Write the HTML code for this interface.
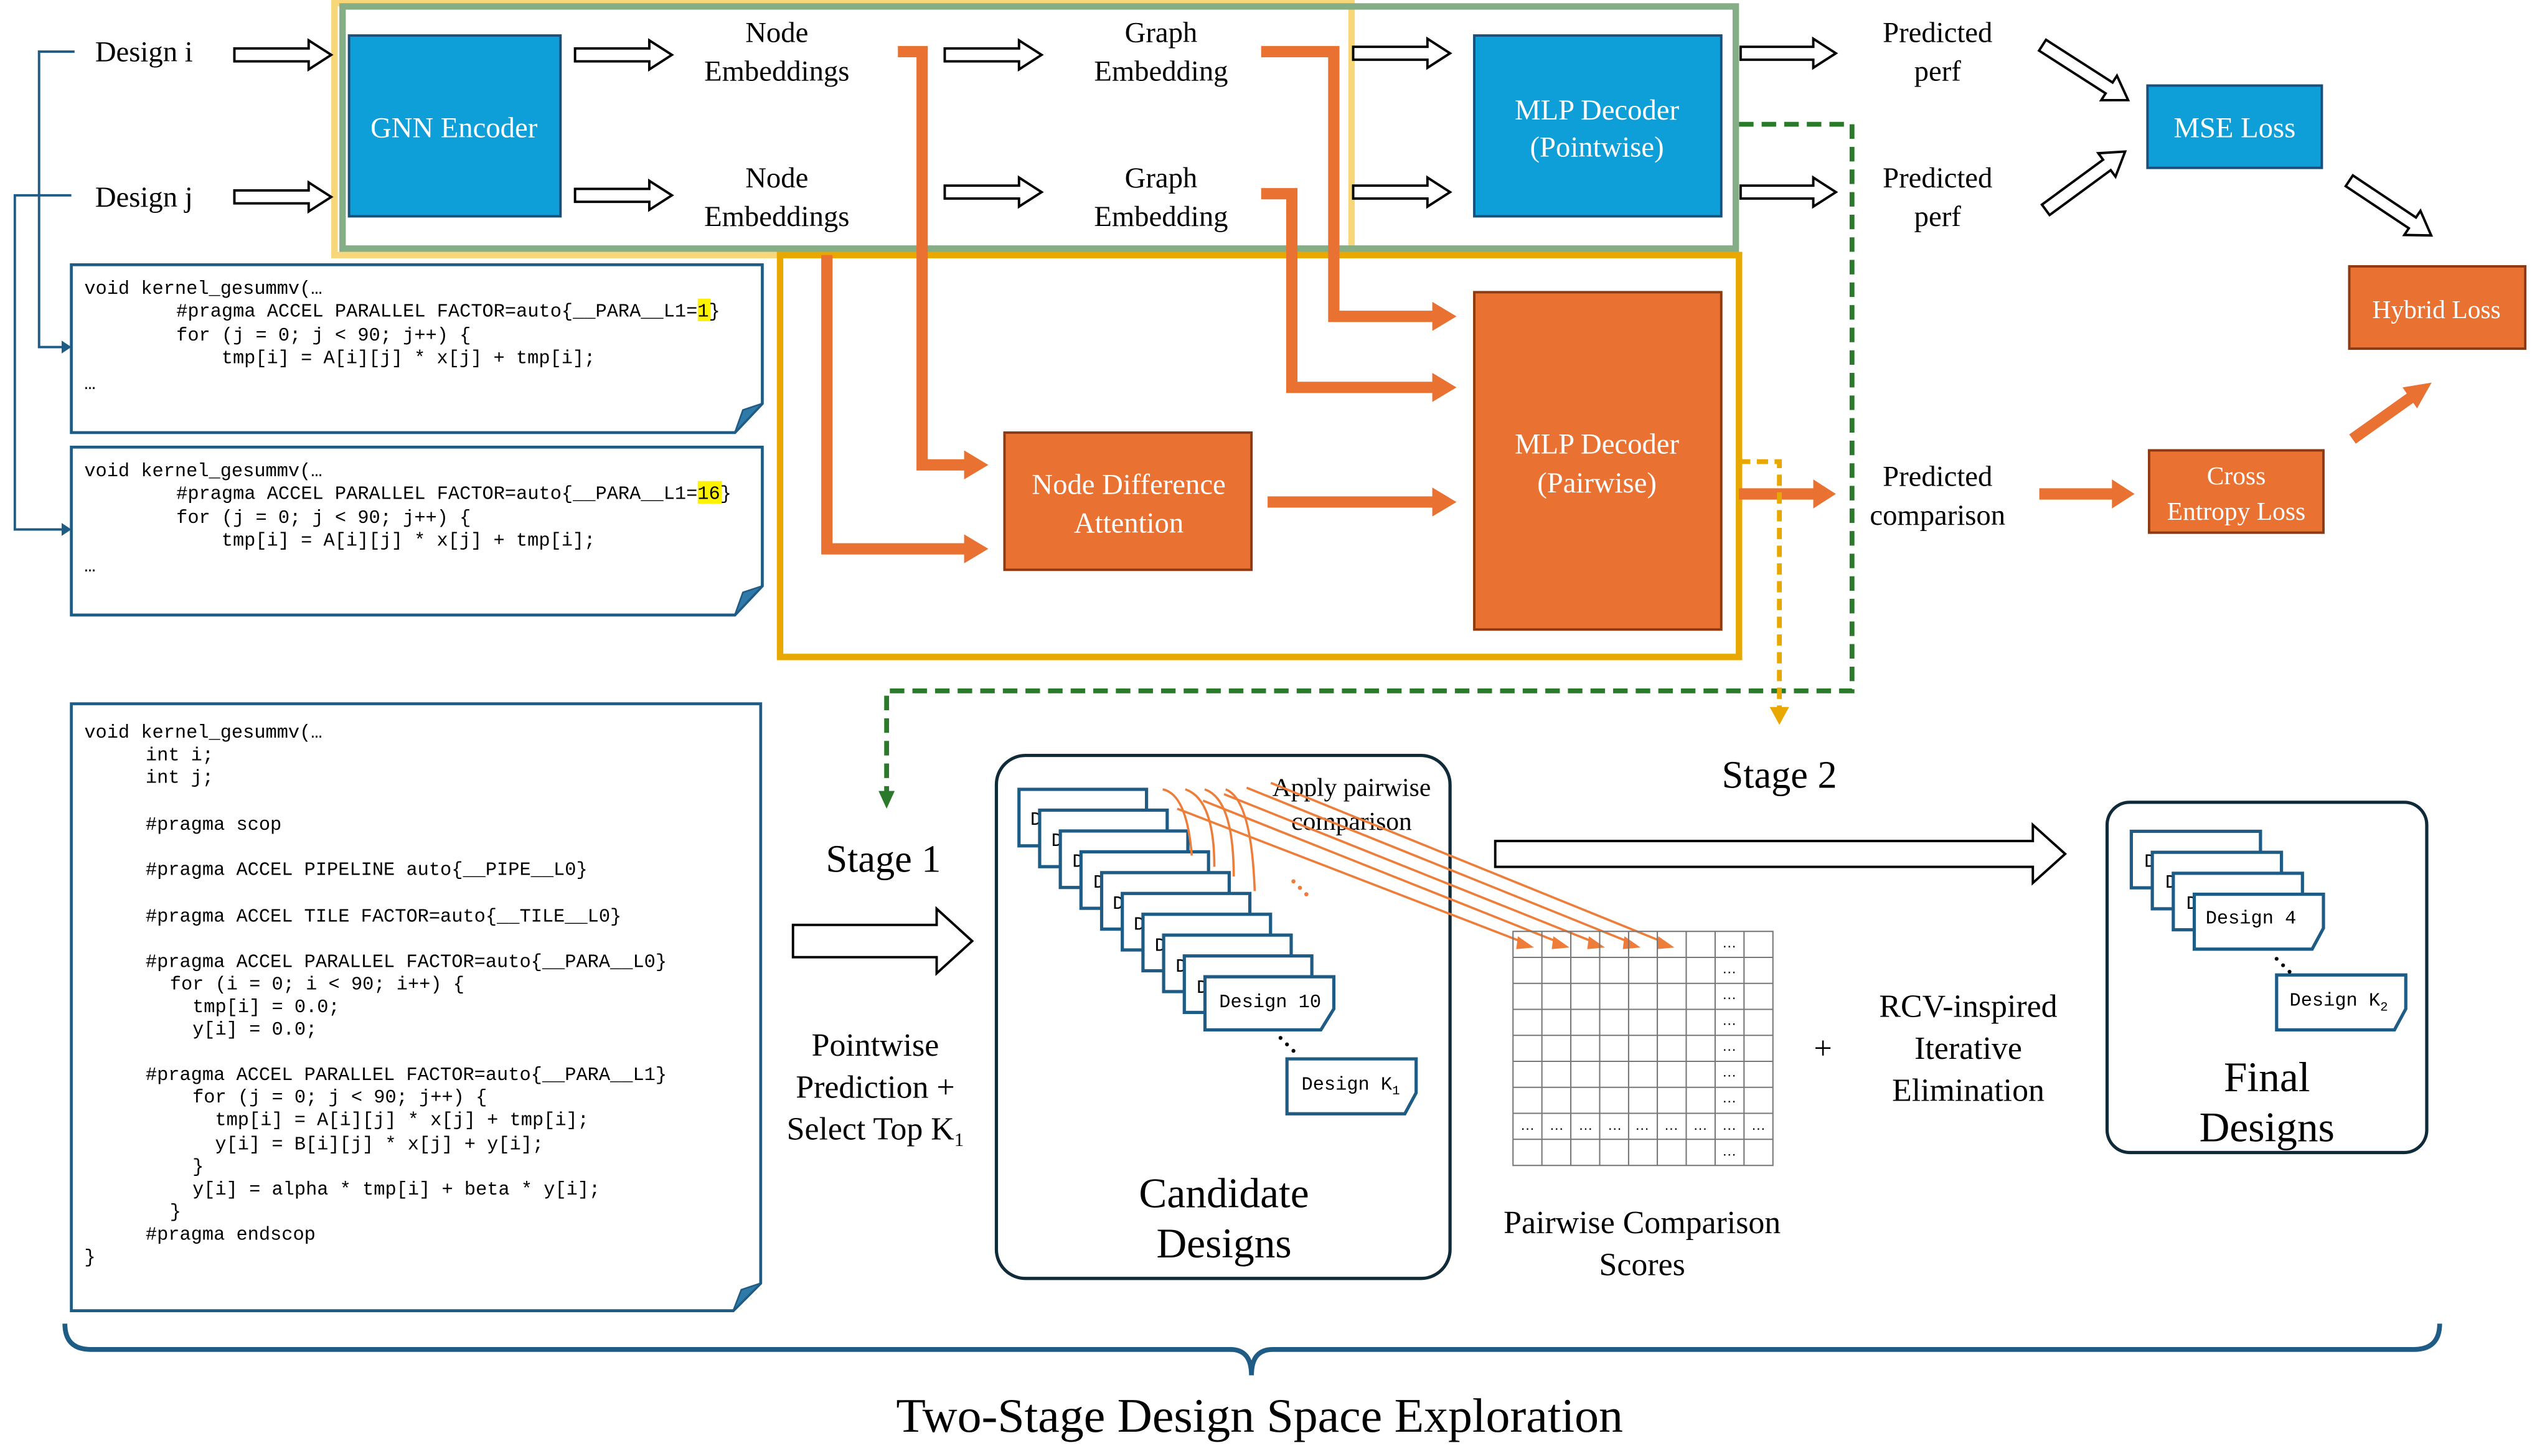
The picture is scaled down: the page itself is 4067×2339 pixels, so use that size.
<!DOCTYPE html>
<html><head><meta charset="utf-8"><style>
html,body{margin:0;padding:0;background:#fff;}
svg{display:block;}
.s{font-family:"Liberation Serif",serif;}
.m{font-family:"Liberation Mono",monospace;font-size:11.7px;}
</style></head><body>
<svg width="4067" height="2339" viewBox="0 0 1568 902" xmlns="http://www.w3.org/2000/svg">
<rect width="1568" height="902" fill="#fff"/>

<!-- left brackets -->
<g fill="none" stroke="#1F5C85" stroke-width="1.5">
<path d="M46,32 H24 V215 H40"/><path d="M44,121 H9 V328 H40"/>
</g>
<path d="M38,211 L44,215 L38,219Z M38,324 L44,328 L38,332Z" fill="#1F5C85"/>
<g class="s" font-size="18" text-anchor="middle">
<text x="89" y="38">Design i</text><text x="89" y="128">Design j</text>
</g>

<!-- boxes -->
<rect x="207" y="2" width="630" height="156" fill="none" stroke="#F7D77A" stroke-width="4"/>
<rect x="212" y="4" width="863" height="150" fill="none" stroke="#86AE86" stroke-width="4"/>
<rect x="483" y="158" width="594" height="249" fill="none" stroke="#E8A800" stroke-width="4"/>

<rect x="216" y="22" width="131" height="112" fill="#0E9ED8" stroke="#1A4F7A" stroke-width="1.5"/>
<text x="281" y="85" class="s" font-size="18" fill="#fff" text-anchor="middle">GNN Encoder</text>
<rect x="913" y="22" width="153" height="112" fill="#0E9ED8" stroke="#1A4F7A" stroke-width="1.5"/>
<text x="989" y="74" class="s" font-size="18" fill="#fff" text-anchor="middle">MLP Decoder</text>
<text x="989" y="97" class="s" font-size="18" fill="#fff" text-anchor="middle">(Pointwise)</text>
<rect x="622" y="268" width="153" height="85" fill="#E97132" stroke="#8B3A12" stroke-width="1.5"/>
<text x="699" y="306" class="s" font-size="18" fill="#fff" text-anchor="middle">Node Difference</text>
<text x="699" y="330" class="s" font-size="18" fill="#fff" text-anchor="middle">Attention</text>
<rect x="913" y="181" width="153" height="209" fill="#E97132" stroke="#8B3A12" stroke-width="1.5"/>
<text x="989" y="281" class="s" font-size="18" fill="#fff" text-anchor="middle">MLP Decoder</text>
<text x="989" y="305" class="s" font-size="18" fill="#fff" text-anchor="middle">(Pairwise)</text>
<rect x="1330" y="53" width="108" height="51" fill="#0E9ED8" stroke="#1A4F7A" stroke-width="1.5"/>
<text x="1384" y="85" class="s" font-size="18" fill="#fff" text-anchor="middle">MSE Loss</text>
<rect x="1455" y="165" width="109" height="51" fill="#E97132" stroke="#8B3A12" stroke-width="1.5"/>
<text x="1509" y="197" class="s" font-size="16" fill="#fff" text-anchor="middle">Hybrid Loss</text>
<rect x="1331" y="279" width="108" height="51" fill="#E97132" stroke="#8B3A12" stroke-width="1.5"/>
<text x="1385" y="300" class="s" font-size="16" fill="#fff" text-anchor="middle">Cross</text>
<text x="1385" y="322" class="s" font-size="16" fill="#fff" text-anchor="middle">Entropy Loss</text>

<g class="s" font-size="18" text-anchor="middle">
<text x="481" y="26">Node</text><text x="481" y="50">Embeddings</text>
<text x="481" y="116">Node</text><text x="481" y="140">Embeddings</text>
<text x="719" y="26">Graph</text><text x="719" y="50">Embedding</text>
<text x="719" y="116">Graph</text><text x="719" y="140">Embedding</text>
<text x="1200" y="26">Predicted</text><text x="1200" y="50">perf</text>
<text x="1200" y="116">Predicted</text><text x="1200" y="140">perf</text>
<text x="1200" y="301">Predicted</text><text x="1200" y="325">comparison</text>
</g>

<!-- hollow arrows -->
<g fill="#fff" stroke="#000" stroke-width="1.5">
<polygon points="145,30 191,30 191,25 205,34 191,43 191,38 145,38"/>
<polygon points="145,118 191,118 191,113 205,122 191,131 191,126 145,126"/>
<polygon points="356,30 402,30 402,25 416,34 402,43 402,38 356,38"/>
<polygon points="356,117 402,117 402,112 416,121 402,130 402,125 356,125"/>
<polygon points="585,30 631,30 631,25 645,34 631,43 631,38 585,38"/>
<polygon points="585,115 631,115 631,110 645,119 631,128 631,123 585,123"/>
<polygon points="838,29 884,29 884,24 898,33 884,42 884,37 838,37"/>
<polygon points="838,115 884,115 884,110 898,119 884,128 884,123 838,123"/>
<polygon points="1078,29 1123,29 1123,24 1137,33 1123,42 1123,37 1078,37"/>
<polygon points="1078,115 1123,115 1123,110 1137,119 1123,128 1123,123 1078,123"/>
<polygon transform="translate(1265,28) rotate(32.7)" points="0,-4 49,-4 49,-9 63,0 49,9 49,4 0,4"/>
<polygon transform="translate(1267,130) rotate(-36.3)" points="0,-4 47,-4 47,-9 61,0 47,9 47,4 0,4"/>
<polygon transform="translate(1455,112) rotate(33.7)" points="0,-4 47,-4 47,-9 61,0 47,9 47,4 0,4"/>
<polygon points="491,573 580,573 580,563 602,583 580,603 580,593 491,593"/>
<polygon points="926,521 1259,521 1259,511 1279,529 1259,547 1259,537 926,537"/>
</g>

<!-- orange thick arrows -->
<g fill="none" stroke="#E97132" stroke-width="7">
<path d="M556,32 H571 V288 H598"/>
<path d="M512,158 V340 H598"/>
<path d="M781,32 H826 V196 H888"/>
<path d="M781,120 H800 V240 H888"/>
<path d="M785,311 H888"/>
<path d="M1077,306 H1124"/>
<path d="M1263,306 H1309"/>
<path d="M1457,272 L1495,245"/>
</g>
<g fill="#E97132">
<polygon points="597,279 612,288 597,297"/>
<polygon points="597,331 612,340 597,349"/>
<polygon points="887,187 902,196 887,205"/>
<polygon points="887,231 902,240 887,249"/>
<polygon points="887,302 902,311 887,320"/>
<polygon points="1123,297 1137,306 1123,315"/>
<polygon points="1308,297 1322,306 1308,315"/>
<polygon points="1506,237 1497,253 1488,240"/>
</g>

<!-- dashed -->
<path d="M1077,77 H1147 V428 H549 V492" fill="none" stroke="#2B7A2B" stroke-width="3" stroke-dasharray="9,5"/>
<polygon points="544,490 549,501 554,490" fill="#2B7A2B"/>
<path d="M1077,286 H1102 V440" fill="none" stroke="#E8A800" stroke-width="3" stroke-dasharray="7,4"/>
<polygon points="1096,438 1102,449 1108,438" fill="#E8A800"/>

<!-- code boxes -->
<g fill="#fff" stroke="#1F5C85" stroke-width="1.8">
<path d="M44,164 H472 V250 L455,268 H44 Z"/>
<path d="M44,277 H472 V363 L455,381 H44 Z"/>
<path d="M44,436 H471 V795 L454,812 H44 Z"/>
</g>
<g fill="#2F7AA8" stroke="#1F5C85" stroke-width="1"><polygon points="455,268 472,250 460,254"/><polygon points="455,381 472,363 460,367"/><polygon points="454,812 471,795 459,799"/></g>
<rect x="432" y="185" width="8" height="14" fill="#FFF200"/>
<rect x="432" y="298" width="15" height="14" fill="#FFF200"/>
<g class="m" fill="#000" xml:space="preserve">
<text x="52" y="182">void kernel_gesummv(…</text>
<text x="109" y="196">#pragma ACCEL PARALLEL FACTOR=auto{__PARA__L1=1}</text>
<text x="109" y="211">for (j = 0; j &lt; 90; j++) {</text>
<text x="137" y="225">tmp[i] = A[i][j] * x[j] + tmp[i];</text>
<text x="52" y="241">…</text>
<text x="52" y="295">void kernel_gesummv(…</text>
<text x="109" y="309">#pragma ACCEL PARALLEL FACTOR=auto{__PARA__L1=16}</text>
<text x="109" y="324">for (j = 0; j &lt; 90; j++) {</text>
<text x="137" y="338">tmp[i] = A[i][j] * x[j] + tmp[i];</text>
<text x="52" y="354">…</text>
<text x="52" y="457">void kernel_gesummv(…</text>
<text x="90" y="471">int i;</text>
<text x="90" y="485">int j;</text>
<text x="90" y="514">#pragma scop</text>
<text x="90" y="542">#pragma ACCEL PIPELINE auto{__PIPE__L0}</text>
<text x="90" y="571">#pragma ACCEL TILE FACTOR=auto{__TILE__L0}</text>
<text x="90" y="599">#pragma ACCEL PARALLEL FACTOR=auto{__PARA__L0}</text>
<text x="105" y="613">for (i = 0; i &lt; 90; i++) {</text>
<text x="119" y="627">tmp[i] = 0.0;</text>
<text x="119" y="641">y[i] = 0.0;</text>
<text x="90" y="669">#pragma ACCEL PARALLEL FACTOR=auto{__PARA__L1}</text>
<text x="119" y="683">for (j = 0; j &lt; 90; j++) {</text>
<text x="133" y="697">tmp[i] = A[i][j] * x[j] + tmp[i];</text>
<text x="133" y="712">y[i] = B[i][j] * x[j] + y[i];</text>
<text x="119" y="726">}</text>
<text x="119" y="740">y[i] = alpha * tmp[i] + beta * y[i];</text>
<text x="105" y="754">}</text>
<text x="90" y="768">#pragma endscop</text>
<text x="52" y="782">}</text>
</g>

<!-- stage text -->
<g class="s" text-anchor="middle">
<text x="547" y="540" font-size="24">Stage 1</text>
<text x="542" y="654" font-size="20">Pointwise</text>
<text x="542" y="680" font-size="20">Prediction +</text>
<text x="542" y="706" font-size="20">Select Top K<tspan font-size="12" dy="4">1</tspan></text>
<text x="1102" y="488" font-size="24">Stage 2</text>
<text x="758" y="748" font-size="26">Candidate</text>
<text x="758" y="779" font-size="26">Designs</text>
<text x="1017" y="764" font-size="20">Pairwise Comparison</text>
<text x="1017" y="790" font-size="20">Scores</text>
<text x="1129" y="656" font-size="20">+</text>
<text x="1219" y="630" font-size="20">RCV-inspired</text>
<text x="1219" y="656" font-size="20">Iterative</text>
<text x="1219" y="682" font-size="20">Elimination</text>
<text x="1404" y="676" font-size="26">Final</text>
<text x="1404" y="707" font-size="26">Designs</text>
<text x="780" y="887" font-size="30">Two-Stage Design Space Exploration</text>
</g>

<!-- candidate box -->
<rect x="617" y="468" width="281" height="324" rx="18" fill="none" stroke="#0F2B3A" stroke-width="2"/>
<g class="m" font-size="12" fill="#000">
<g stroke="#1F5C85" stroke-width="2" fill="#fff"><rect x="631" y="489" width="79" height="35"/></g><text x="638" y="511">Design 1</text>
<g stroke="#1F5C85" stroke-width="2" fill="#fff"><rect x="643.8" y="501.9" width="79" height="35"/></g><text x="651" y="524">Design 2</text>
<g stroke="#1F5C85" stroke-width="2" fill="#fff"><rect x="656.6" y="514.8" width="79" height="35"/></g><text x="664" y="537">Design 3</text>
<g stroke="#1F5C85" stroke-width="2" fill="#fff"><rect x="669.4" y="527.7" width="79" height="35"/></g><text x="677" y="550">Design 4</text>
<g stroke="#1F5C85" stroke-width="2" fill="#fff"><rect x="682.2" y="540.6" width="79" height="35"/></g><text x="689" y="563">Design 5</text>
<g stroke="#1F5C85" stroke-width="2" fill="#fff"><rect x="695" y="553.5" width="79" height="35"/></g><text x="702" y="576">Design 6</text>
<g stroke="#1F5C85" stroke-width="2" fill="#fff"><rect x="707.8" y="566.4" width="79" height="35"/></g><text x="715" y="589">Design 7</text>
<g stroke="#1F5C85" stroke-width="2" fill="#fff"><rect x="720.6" y="579.3" width="79" height="35"/></g><text x="728" y="602">Design 8</text>
<g stroke="#1F5C85" stroke-width="2" fill="#fff"><rect x="733.4" y="592.2" width="79" height="35"/></g><text x="741" y="615">Design 9</text>
<g stroke="#1F5C85" stroke-width="2" fill="#fff"><path d="M746.2,605.1 H826 V625 L818,638 H746.2 Z"/>
<path d="M797,656 H877 V677 L870,690 H797 Z"/></g>
<text x="755" y="624" font-size="11.7">Design 10</text>
<text x="806" y="675" font-size="11.7">Design K<tspan font-size="8" dy="3">1</tspan></text>
</g>
<g fill="#000"><circle cx="793" cy="643" r="1.2"/><circle cx="797" cy="647" r="1.2"/><circle cx="801" cy="651" r="1.2"/></g>

<text x="837" y="493" class="s" font-size="16" text-anchor="middle">Apply pairwise</text>
<text x="837" y="514" class="s" font-size="16" text-anchor="middle">comparison</text>

<!-- orange thin arrows -->
<g stroke="#EE7D3A" stroke-width="1.4" fill="none">
<path d="M729,501 L944,584"/><path d="M745,496 L966,584"/><path d="M758,492 L988,584"/><path d="M772,488 L1010,584"/><path d="M787,485 L1031,584"/>
<path d="M720,489 Q735,492 738,530"/><path d="M734,489 Q752,495 752,537"/><path d="M746,489 Q764,495 764,543"/><path d="M759,489 Q775,495 777,552"/>
</g>
<g fill="#EE7D3A">
<polygon points="950,587 940,580 939,588"/><polygon points="972,587 962,580 961,588"/><polygon points="994,587 984,580 983,588"/><polygon points="1016,587 1006,580 1005,588"/><polygon points="1037,587 1027,580 1026,588"/>
<circle cx="801" cy="546" r="1.3"/><circle cx="805" cy="550" r="1.3"/><circle cx="809" cy="554" r="1.3"/>
</g>

<!-- matrix -->
<g stroke="#777" stroke-width="0.8" fill="none">
<rect x="937" y="577" width="161" height="145"/>
<path d="M954.9,577V722 M972.8,577V722 M990.7,577V722 M1008.6,577V722 M1026.4,577V722 M1044.3,577V722 M1062.2,577V722 M1080.1,577V722"/>
<path d="M937,593.1H1098 M937,609.2H1098 M937,625.3H1098 M937,641.4H1098 M937,657.5H1098 M937,673.6H1098 M937,689.7H1098 M937,705.8H1098"/>
</g>
<g font-family="Liberation Sans,sans-serif" font-size="9" text-anchor="middle" fill="#000">
<text x="1071" y="587">…</text><text x="1071" y="603">…</text><text x="1071" y="619">…</text><text x="1071" y="635">…</text><text x="1071" y="651">…</text><text x="1071" y="667">…</text><text x="1071" y="683">…</text><text x="1071" y="716">…</text>
<text x="946" y="700">…</text><text x="964" y="700">…</text><text x="982" y="700">…</text><text x="1000" y="700">…</text><text x="1017" y="700">…</text><text x="1035" y="700">…</text><text x="1053" y="700">…</text><text x="1071" y="700">…</text><text x="1089" y="700">…</text>
</g>

<!-- final box -->
<rect x="1305" y="497" width="198" height="217" rx="14" fill="none" stroke="#0F2B3A" stroke-width="2"/>
<g class="m" fill="#000">
<g stroke="#1F5C85" stroke-width="2" fill="#fff"><rect x="1320" y="515" width="80" height="35"/></g><text x="1328" y="537">Design 1</text>
<g stroke="#1F5C85" stroke-width="2" fill="#fff"><rect x="1333" y="528" width="80" height="35"/></g><text x="1341" y="550">Design 2</text>
<g stroke="#1F5C85" stroke-width="2" fill="#fff"><rect x="1346" y="541" width="80" height="35"/></g><text x="1354" y="563">Design 3</text>
<g stroke="#1F5C85" stroke-width="2" fill="#fff"><path d="M1359,554 H1439 V575 L1432,588 H1359 Z"/>
<path d="M1410,604 H1490 V625 L1483,638 H1410 Z"/></g>
<text x="1366" y="572">Design 4</text>
<text x="1418" y="623">Design K<tspan font-size="8" dy="3">2</tspan></text>
</g>
<g fill="#000"><circle cx="1410" cy="594" r="1.2"/><circle cx="1414" cy="598" r="1.2"/><circle cx="1418" cy="602" r="1.2"/></g>

<!-- bottom bracket -->
<path d="M40,820 Q40,836 56,836 H762 Q775,836 775,852 Q775,836 788,836 H1495 Q1511,836 1511,820" fill="none" stroke="#1F5C85" stroke-width="3"/>
</svg>
</body></html>
